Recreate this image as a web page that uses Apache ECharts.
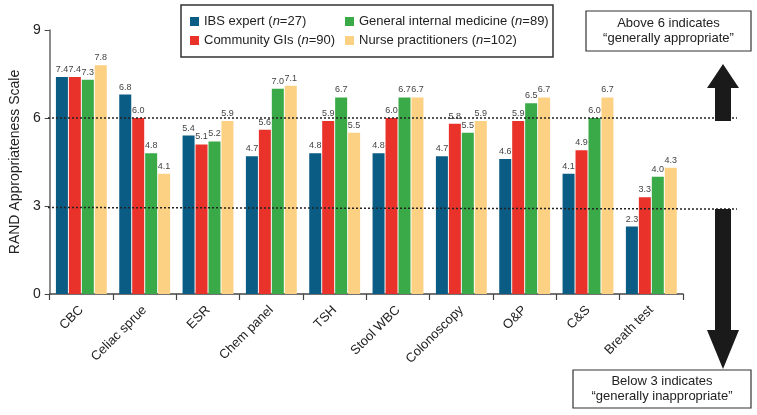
<!DOCTYPE html>
<html>
<head>
<meta charset="utf-8">
<script src="https://cdn.jsdelivr.net/npm/echarts@6/dist/echarts.min.js"></script>
<style>html,body{margin:0;padding:0;background:#fff}#c{width:757px;height:415px}</style>
</head>
<body>
<div id="c"></div>
<script>
var categories = ['CBC', 'Celiac sprue', 'ESR', 'Chem panel', 'TSH', 'Stool WBC', 'Colonoscopy', 'O&P', 'C&S', 'Breath test'];
var ibsExpert = [7.4, 6.8, 5.4, 4.7, 4.8, 4.8, 4.7, 4.6, 4.1, 2.3];
var communityGIs = [7.4, 6.0, 5.1, 5.6, 5.9, 6.0, 5.8, 5.9, 4.9, 3.3];
var generalInternal = [7.3, 4.8, 5.2, 7.0, 6.7, 6.7, 5.5, 6.5, 6.0, 4.0];
var nursePractitioners = [7.8, 4.1, 5.9, 7.1, 5.5, 6.7, 5.9, 6.7, 6.7, 4.3];
var seriesNames = ['IBS expert', 'Community GIs', 'General internal medicine', 'Nurse practitioners'];
var seriesN = [27, 90, 89, 102];
var yTicks = [0, 3, 6, 9];
var thresholds = [6, 3];

var FONT = '"Liberation Sans", Arial, Helvetica, sans-serif';
var colors = ['#0b5c85', '#e8322a', '#3aaa48', '#fdd183'];
var chart = echarts.init(document.getElementById('c'));

function legendFmt(name) {
  var i = seriesNames.indexOf(name);
  return name + ' ({i|n}=' + seriesN[i] + ')';
}
var legendText = {fontFamily: FONT, fontSize: 13, color: '#222', rich: {i: {fontFamily: FONT, fontSize: 13, fontStyle: 'italic', color: '#222'}}};

function mkSeries(idx, data) {
  return {
    name: seriesNames[idx], type: 'bar', data: data, barWidth: 12, barGap: '8%',
    itemStyle: {color: colors[idx]},
    label: {show: true, position: 'top', distance: 3, fontFamily: FONT, fontSize: 9, color: '#444',
      formatter: function (p) { return p.value.toFixed(1); }},
    animation: false
  };
}

chart.setOption({
  animation: false,
  textStyle: {fontFamily: FONT},
  grid: {left: 46, right: 74, top: 30, bottom: 121, containLabel: false},
  legend: [
    {data: [seriesNames[0], seriesNames[1]], orient: 'vertical', left: 190, top: 15, padding: 0,
     itemWidth: 9, itemHeight: 9, itemGap: 6, icon: 'rect', formatter: legendFmt, textStyle: legendText, selectedMode: false},
    {data: [seriesNames[2], seriesNames[3]], orient: 'vertical', left: 345, top: 15, padding: 0,
     itemWidth: 9, itemHeight: 9, itemGap: 6, icon: 'rect', formatter: legendFmt, textStyle: legendText, selectedMode: false}
  ],
  xAxis: {
    type: 'category', data: categories,
    axisLine: {lineStyle: {color: '#444', width: 1.5}},
    axisTick: {show: true, length: 6, lineStyle: {color: '#444', width: 1.2}},
    axisLabel: {rotate: 45, fontFamily: FONT, fontSize: 13, color: '#222', margin: 14, interval: 0}
  },
  yAxis: {
    type: 'value', min: 0, max: 9, interval: 3,
    name: 'RAND Appropriateness Scale', nameLocation: 'middle', nameGap: 27, nameRotate: 90,
    nameTextStyle: {fontFamily: FONT, fontSize: 14, color: '#222'},
    axisLine: {show: true, lineStyle: {color: '#666', width: 1.5}},
    axisTick: {show: true, length: 5, lineStyle: {color: '#444'}},
    axisLabel: {fontFamily: FONT, fontSize: 14, color: '#222', margin: 9,
      formatter: function (v) { return yTicks.indexOf(v) >= 0 ? String(v) : ''; }},
    splitLine: {show: false}
  },
  series: [mkSeries(0, ibsExpert), mkSeries(1, communityGIs), mkSeries(2, generalInternal), mkSeries(3, nursePractitioners)]
});

var gLeft = 48, gRight = 737;
var y6 = chart.convertToPixel({yAxisIndex: 0}, thresholds[0]);
var y3 = chart.convertToPixel({yAxisIndex: 0}, thresholds[1]);
var ax = 723;
var graphics = [
  {type: 'rect', shape: {x: 181, y: 5, width: 372, height: 52}, style: {fill: 'none', stroke: '#333', lineWidth: 1.5}, z: 10},
  {type: 'line', shape: {x1: gLeft, y1: y6, x2: gRight, y2: y6}, style: {stroke: '#222', lineWidth: 1.5, lineDash: [2, 2]}, z: 5},
  {type: 'line', shape: {x1: gLeft, y1: y3 + 1.5, x2: gRight, y2: y3 + 3}, style: {stroke: '#222', lineWidth: 1.5, lineDash: [2, 2]}, z: 5},
  {type: 'polygon', shape: {points: [[ax - 8, y6 + 3], [ax - 8, 88], [ax - 16, 88], [ax, 64], [ax + 16, 88], [ax + 8, 88], [ax + 8, y6 + 3]]}, style: {fill: '#1a1a1a'}, z: 6},
  {type: 'polygon', shape: {points: [[ax - 8, y3 + 3], [ax - 8, 330], [ax - 16, 330], [ax, 369], [ax + 16, 330], [ax + 8, 330], [ax + 8, y3 + 3]]}, style: {fill: '#1a1a1a'}, z: 6},
  {type: 'rect', shape: {x: 586, y: 11, width: 165, height: 40}, style: {fill: '#fff', stroke: '#333', lineWidth: 1.2}, z: 10},
  {type: 'text', x: 668.5, y: 31, style: {text: 'Above 6 indicates\n\u201cgenerally appropriate\u201d', fontFamily: FONT, fontSize: 13, fill: '#222', align: 'center', verticalAlign: 'middle', lineHeight: 15}, z: 11},
  {type: 'rect', shape: {x: 573, y: 370, width: 178, height: 38}, style: {fill: '#fff', stroke: '#333', lineWidth: 1.2}, z: 10},
  {type: 'text', x: 662, y: 389, style: {text: 'Below 3 indicates\n\u201cgenerally inappropriate\u201d', fontFamily: FONT, fontSize: 13, fill: '#222', align: 'center', verticalAlign: 'middle', lineHeight: 15}, z: 11}
];
chart.setOption({graphic: graphics});
</script>
</body>
</html>
